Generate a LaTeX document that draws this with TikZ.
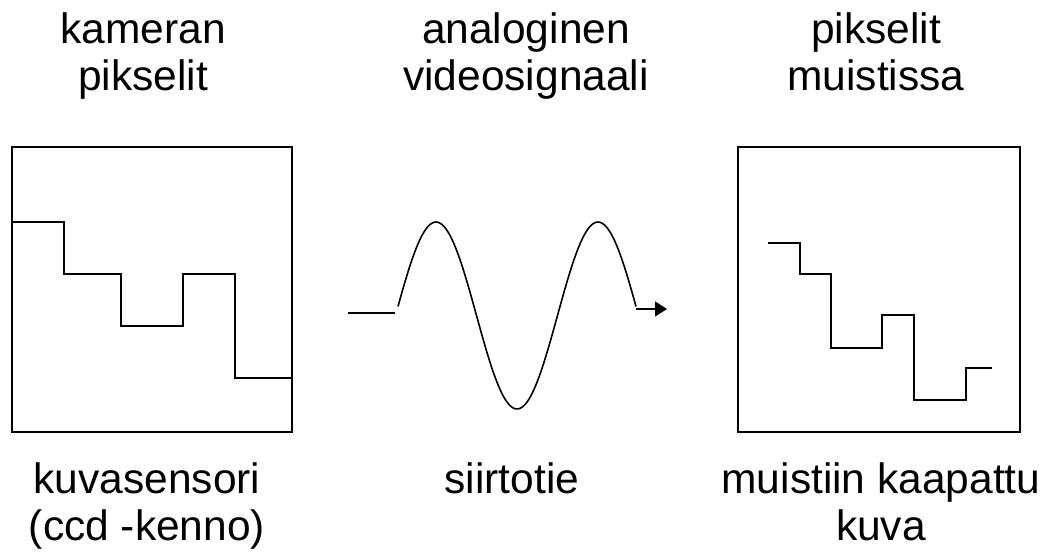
\documentclass[tikz,border=0pt]{standalone}
\usepackage{fontspec}
\setmainfont{Liberation Sans}
\usetikzlibrary{arrows.meta}
\begin{document}
\begin{tikzpicture}[x=1pt,y=-1pt,
  lbl/.style={align=center,anchor=north,inner sep=0pt,font=\fontsize{42.5}{47}\selectfont},
  frame/.style={draw,line width=1.6pt,inner sep=0pt},
  trace/.style={line width=1.6pt,line join=miter}]
\useasboundingbox (0,0) rectangle (1053,559);
% labels
\node[lbl] (t1) at (143,13) {kameran\\pikselit};
\node[lbl] (t2) at (526,13) {analoginen\\videosignaali};
\node[lbl] (t3) at (876,13) {pikselit\\muistissa};
\node[lbl] (b1) at (147,463) {kuvasensori\\(ccd -kenno)};
\node[lbl] (b2) at (512,463) {siirtotie};
\node[lbl] (b3) at (881,463) {muistiin kaapattu\\kuva};
% boxes
\draw[frame] (12,147) rectangle (292,432);
\node[inner sep=0pt,minimum width=280pt,minimum height=285pt] (sensor) at (152,289.5) {};
\draw[frame] (738,147) rectangle (1020,432);
\node[inner sep=0pt,minimum width=282pt,minimum height=285pt] (memory) at (879,289.5) {};
% staircase in camera
\draw[trace] (12,222) -- (64,222) -- (64,274) -- (121,274) -- (121,326) -- (183,326)
  -- (183,274) -- (235,274) -- (235,378) -- (292,378);
% staircase in memory
\draw[trace] (768,243) -- (800,243) -- (800,274) -- (831,274) -- (831,348) -- (882,348)
  -- (882,315) -- (914,315) -- (914,400) -- (966,400) -- (966,368) -- (992,368);
% wave
\coordinate (win) at (348,313);
\coordinate (wa) at (395,313);
\coordinate (wend) at (636,309);
\coordinate (wtip) at (667,309);
\draw[trace] (win) -- (wa);
\draw[trace,line join=round,domain=-38:200,samples=120,smooth]
  plot ({436+\x},{315.5-93.5*cos(2.2222*\x)});
\draw[trace,-{Triangle[length=12pt,width=15pt]}] (wend) -- (wtip);
\end{tikzpicture}
\end{document}
